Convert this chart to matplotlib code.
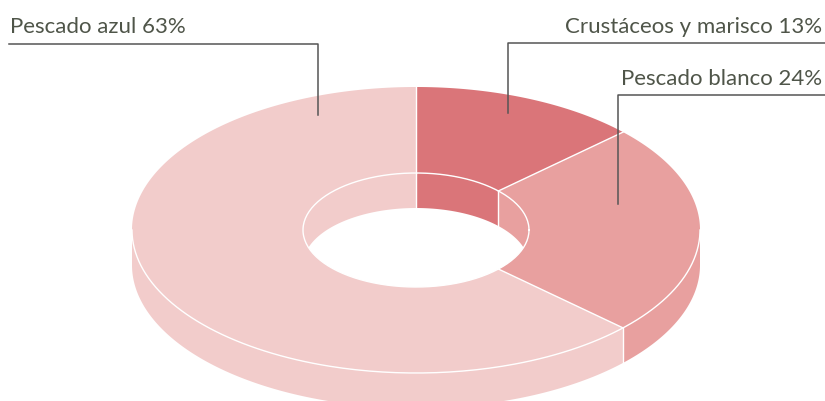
import numpy as np
import matplotlib
matplotlib.use("Agg")
import matplotlib.pyplot as plt
from matplotlib.patches import Polygon

# data
labels = ["Crustáceos y marisco", "Pescado blanco", "Pescado azul"]
shares = [13, 24, 63]
colors = ["#da7579", "#e8a09f", "#f2cccb"]

# geometry in pixels (y grows downward)
cx, cy = 416, 230
rx, ry = 284, 143
irx, iry = 113, 57
depth = 35

text_col = "#4f5549"
line_col = "#555555"

fig = plt.figure(figsize=(8.25, 4.01), dpi=100)
ax = fig.add_axes([0, 0, 1, 1])
ax.set_xlim(0, 825)
ax.set_ylim(401, 0)
ax.axis("off")


def arc(a, b, rxx, ryy, dy=0, n=200):
    t = np.radians(np.linspace(a, b, n))
    return np.column_stack([cx + rxx * np.cos(t), cy - ryy * np.sin(t) + dy])


# slice angle ranges, clockwise from top (parametric angle)
bounds = []
start = 90.0
for s in shares:
    end = start - s * 3.6
    bounds.append((start, end))
    start = end

# outer side wall (front half: angles between -180 and 0)
for (a, b), c in zip(bounds, colors):
    for lo, hi in [(-180, 0), (-540, -360)]:
        a1, b1 = min(a, hi), max(b, lo)
        if a1 > b1:
            top = arc(a1, b1, rx, ry)
            bot = arc(b1, a1, rx, ry, depth)
            ax.add_patch(Polygon(np.vstack([top, bot]), closed=True, fc=c, ec="none", zorder=1))

# inner wall (back half: angles between 0 and 180)
for (a, b), c in zip(bounds, colors):
    for lo, hi in [(0, 180), (-360, -180)]:
        a1, b1 = min(a, hi), max(b, lo)
        if a1 > b1:
            top = arc(a1, b1, irx, iry)
            bot = arc(b1, a1, irx, iry, depth)
            ax.add_patch(Polygon(np.vstack([top, bot]), closed=True, fc=c, ec="none", zorder=1))

# top faces
for (a, b), c in zip(bounds, colors):
    outer = arc(a, b, rx, ry)
    inner = arc(b, a, irx, iry)
    ax.add_patch(Polygon(np.vstack([outer, inner]), closed=True, fc=c, ec="none", zorder=2))

# white edges
lw = 1.0
front = arc(-180, 0, rx, ry)
ax.plot(front[:, 0], front[:, 1], color="white", lw=lw, zorder=3)
ring = arc(0, 360, irx, iry)
ax.plot(ring[:, 0], ring[:, 1], color="white", lw=lw, zorder=3)
for a, _ in bounds:
    t = np.radians(a)
    x0, y0 = cx + irx * np.cos(t), cy - iry * np.sin(t)
    x1, y1 = cx + rx * np.cos(t), cy - ry * np.sin(t)
    ax.plot([x0, x1], [y0, y1], color="white", lw=lw, zorder=3)
    if np.sin(t) < 0:
        ax.plot([x1, x1], [y1, y1 + depth], color="white", lw=lw, zorder=3)
    if np.sin(t) > 0:
        ax.plot([x0, x0], [y0, y0 + depth], color="white", lw=lw, zorder=3)

# labels and leader lines
font = dict(family="Lato", fontsize=16, color=text_col)
ax.text(10, 33, f"{labels[2]} {shares[2]}%", ha="left", va="baseline", **font)
ax.plot([9, 318, 318], [44, 44, 115], color=line_col, lw=1.1, zorder=4)

ax.text(822, 33, f"{labels[0]} {shares[0]}%", ha="right", va="baseline", **font)
ax.plot([825, 508, 508], [43, 43, 113], color=line_col, lw=1.1, zorder=4)

ax.text(822, 85, f"{labels[1]} {shares[1]}%", ha="right", va="baseline", **font)
ax.plot([825, 618, 618], [95, 95, 204], color=line_col, lw=1.1, zorder=4)

fig.savefig("out.png", dpi=100)
